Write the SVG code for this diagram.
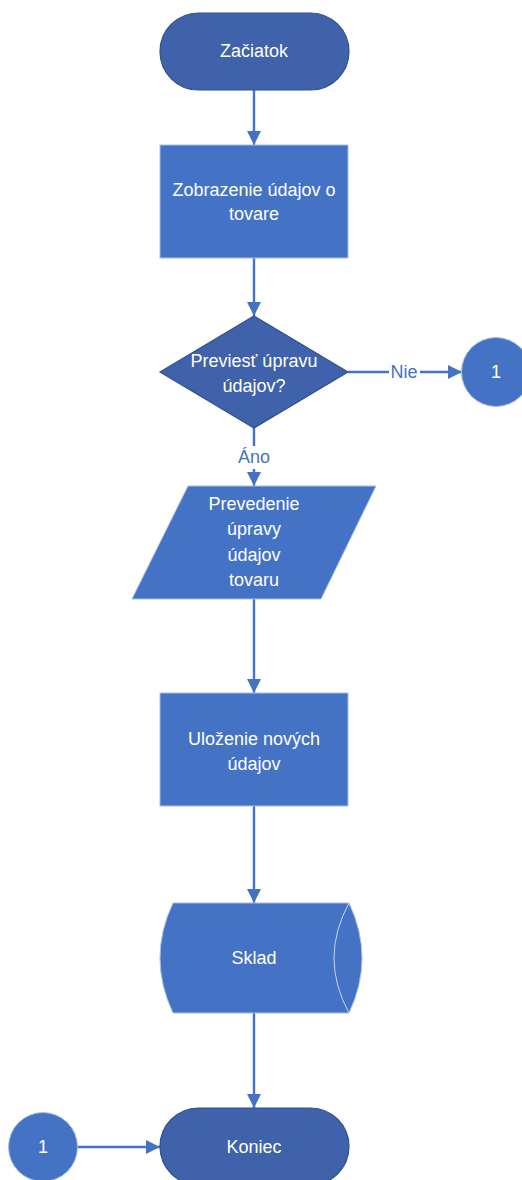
<svg xmlns="http://www.w3.org/2000/svg" width="522" height="1180" viewBox="0 0 522 1180">
<defs>
<style>
.dark{fill:#3F62AB;stroke:#2F528F;stroke-width:1.2}
.light{fill:#4472C4;stroke:#A9BDE3;stroke-width:1}
.t{font-family:"Liberation Sans",Arial,sans-serif;font-size:18px;fill:#ffffff;text-anchor:middle;dominant-baseline:central}
.lbl{font-family:"Liberation Sans",Arial,sans-serif;font-size:18px;fill:#4472C4;text-anchor:middle;dominant-baseline:central}
.c{stroke:#4472C4;stroke-width:2.4;fill:none}
</style>
<marker id="a" viewBox="0 0 14 14" refX="14" refY="7" markerWidth="14" markerHeight="14" markerUnits="userSpaceOnUse" orient="auto">
<path d="M0,0 L14,7 L0,14 Z" fill="#4472C4"/>
</marker>
</defs>
<g id="connectors">
<line class="c" x1="254" y1="90" x2="254" y2="145" marker-end="url(#a)"/>
<line class="c" x1="254" y1="258" x2="254" y2="316" marker-end="url(#a)"/>
<line class="c" x1="348" y1="372" x2="389" y2="372"/>
<line class="c" x1="420" y1="372" x2="462" y2="372" marker-end="url(#a)"/>
<line class="c" x1="254" y1="428" x2="254" y2="446"/>
<line class="c" x1="254" y1="469" x2="254" y2="486" marker-end="url(#a)"/>
<line class="c" x1="254" y1="599" x2="254" y2="693" marker-end="url(#a)"/>
<line class="c" x1="254" y1="806" x2="254" y2="903" marker-end="url(#a)"/>
<line class="c" x1="254" y1="1013" x2="254" y2="1108" marker-end="url(#a)"/>
<line class="c" x1="77" y1="1147" x2="160" y2="1147" marker-end="url(#a)"/>
<text class="lbl" x="404" y="372">Nie</text>
<text class="lbl" x="254" y="457">Áno</text>
</g>
<g id="start">
<rect class="dark" x="160" y="13" width="189" height="77" rx="38.5"/>
<text class="t" x="254" y="51">Začiatok</text>
</g>
<g id="display">
<rect class="light" x="160" y="145" width="188" height="113"/>
<text class="t" x="254" y="190">Zobrazenie údajov o</text>
<text class="t" x="254" y="214">tovare</text>
</g>
<g id="decision">
<polygon class="dark" points="254,316 348,372 254,428 160,372"/>
<text class="t" x="254" y="361">Previesť úpravu</text>
<text class="t" x="254" y="386">údajov?</text>
</g>
<g id="connector-right">
<circle class="light" cx="496" cy="372" r="34.5"/>
<text class="t" x="496" y="372">1</text>
</g>
<g id="input">
<polygon class="light" points="188,486 376,486 321,599 132,599"/>
<text class="t" x="254" y="504">Prevedenie</text>
<text class="t" x="254" y="529">úpravy</text>
<text class="t" x="254" y="555">údajov</text>
<text class="t" x="254" y="580">tovaru</text>
</g>
<g id="save">
<rect class="light" x="160" y="693" width="188" height="113"/>
<text class="t" x="254" y="739">Uloženie nových</text>
<text class="t" x="254" y="764">údajov</text>
</g>
<g id="storage">
<path class="light" d="M173,903 L349,903 Q375,958 349,1013 L173,1013 Q147,958 173,903 Z"/>
<path d="M349,903 Q319,958 349,1013" fill="none" stroke="#C9D5EE" stroke-width="1"/>
<text class="t" x="254" y="958">Sklad</text>
</g>
<g id="end">
<rect class="dark" x="160" y="1108" width="189" height="77" rx="38.5"/>
<text class="t" x="254" y="1147">Koniec</text>
</g>
<g id="connector-left">
<circle class="light" cx="43" cy="1147" r="34.5"/>
<text class="t" x="43" y="1147">1</text>
</g>
</svg>
